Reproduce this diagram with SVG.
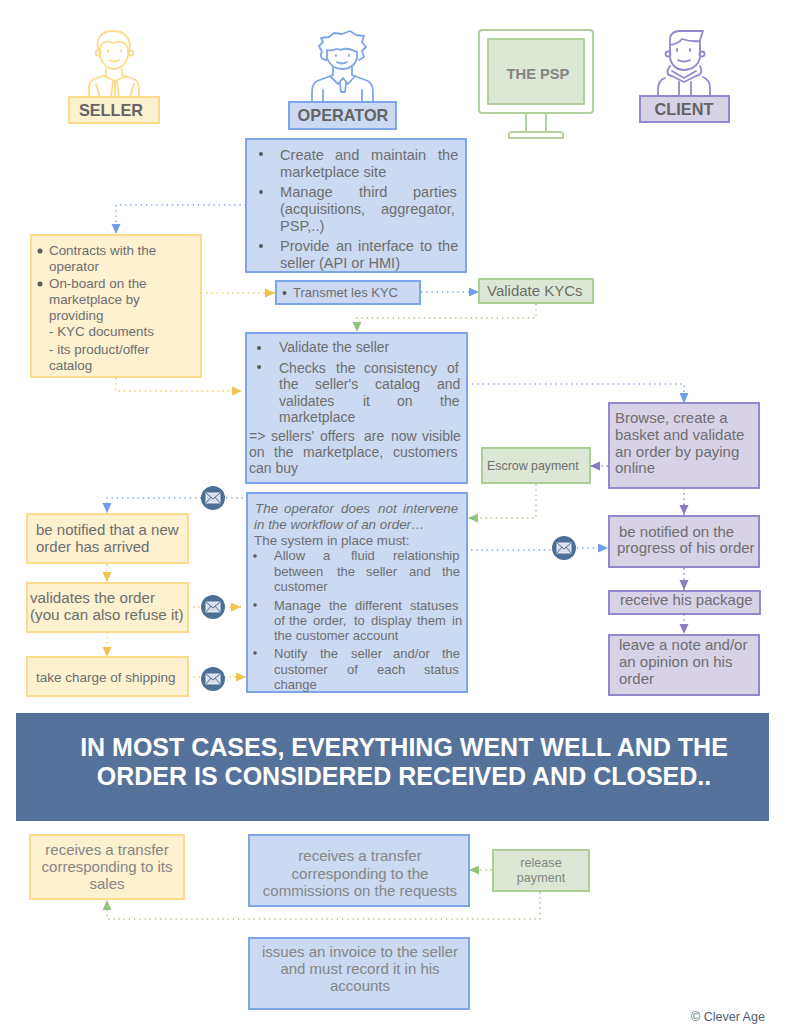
<svg xmlns="http://www.w3.org/2000/svg" width="786" height="1024" viewBox="0 0 786 1024">
<defs>
<style>
text{font-family:"Liberation Sans",Arial,sans-serif;fill:#6e6e6e}
.y{fill:#fdf1d0;stroke:#fbdc8c;stroke-width:2}
.b{fill:#cbd9f3;stroke:#7da6e8;stroke-width:2}
.g{fill:#dce7d5;stroke:#aecf94;stroke-width:2}
.p{fill:#d8d2e7;stroke:#9288cb;stroke-width:2}
.c{fill:none;stroke-width:1.600;stroke-dasharray:1.400 3.800}
.cy{stroke:#f1c85a}.cb{stroke:#7da6e8}.cg{stroke:#a5cb8e}.cp{stroke:#8e7cc3}
.ic{fill:none;stroke-width:1.8;stroke-linecap:round;stroke-linejoin:round}
.hd{font-weight:bold;font-size:16.300px;fill:#646464;text-anchor:middle}
.m{text-anchor:middle}
.dot{fill:#5a5a5a}
.f13{font-size:13px}.f134{font-size:13.400px}.f14{font-size:14px}.f146{font-size:14.600px}.f15{font-size:15px}
.lt{fill:#858585}
</style>
<marker id="ay" markerWidth="11" markerHeight="10" refX="10" refY="4.500" orient="auto" markerUnits="userSpaceOnUse"><path d="M0 0L10 4.500L0 9Z" fill="#f1c24f"/></marker>
<marker id="ab" markerWidth="11" markerHeight="10" refX="10" refY="4.500" orient="auto" markerUnits="userSpaceOnUse"><path d="M0 0L10 4.500L0 9Z" fill="#6d9eeb"/></marker>
<marker id="ag" markerWidth="11" markerHeight="10" refX="10" refY="4.500" orient="auto" markerUnits="userSpaceOnUse"><path d="M0 0L10 4.500L0 9Z" fill="#93c47d"/></marker>
<marker id="ap" markerWidth="11" markerHeight="10" refX="10" refY="4.500" orient="auto" markerUnits="userSpaceOnUse"><path d="M0 0L10 4.500L0 9Z" fill="#8e7cc3"/></marker>
<g id="mail"><circle r="12" fill="#4e6f95"/><rect x="-7" y="-5" width="14" height="10" fill="#d5deeb" stroke="#fff" stroke-width=".8"/><path d="M-7 -5L0 1L7 -5M-7 5L-2 -1M7 5L2 -1" fill="none" stroke="#4e6f95" stroke-width="1"/></g>
</defs>
<rect width="786" height="1024" fill="#fff"/>

<g id="connectors">
<path class="c cb" marker-end="url(#ab)" d="M246 205H116V234"/>
<path class="c cy" marker-end="url(#ay)" d="M201 293H275"/>
<path class="c cy" marker-end="url(#ay)" d="M116 378V391H242"/>
<path class="c cb" marker-end="url(#ab)" d="M421 292H479"/>
<path class="c cg" marker-end="url(#ag)" d="M536 304V318H357V332"/>
<path class="c cb" marker-end="url(#ab)" d="M467 384H684V403"/>
<path class="c cp" marker-end="url(#ap)" d="M608 466H590"/>
<path class="c cg" marker-end="url(#ag)" d="M536 484V518H468"/>
<path class="c cp" marker-end="url(#ap)" d="M684 488V515"/>
<path class="c cb" d="M471 550H552"/>
<path class="c cb" marker-end="url(#ab)" d="M577 548H608"/>
<path class="c cp" marker-end="url(#ap)" d="M684 568V590"/>
<path class="c cp" marker-end="url(#ap)" d="M684 614V634"/>
<path class="c cb" marker-end="url(#ab)" d="M243 498H107V513"/>
<path class="c cy" marker-end="url(#ay)" d="M107 564V582"/>
<path class="c cy" marker-end="url(#ay)" d="M107 632V657"/>
<path class="c cy" marker-end="url(#ay)" d="M188 607H241"/>
<path class="c cy" marker-end="url(#ay)" d="M188 677H246"/>
<path class="c cg" marker-end="url(#ag)" d="M492 870H469"/>
<path class="c cg" marker-end="url(#ag)" d="M540 892V919H107V900"/>
</g>

<g id="seller">
<g class="ic" stroke="#fcdb8c">
<path d="M99 51C95 40 100 31 113 31C126 31 132 40 129 51"/>
<path d="M100 51C100 42 106 40 113 43C120 40 128 42 128 51V57C125 65 120 69 114 69C108 69 103 65 100 57Z"/>
<circle cx="98" cy="53" r="2.500"/><circle cx="131" cy="53" r="2.500"/>
<path d="M109 60Q114 63 119 60M108 50v2M121 50v2"/>
<path d="M106 69V75L94 79Q89 82 89 88V97M122 69V75L134 79Q139 82 139 88V97M104 76L115 81L126 76M115 81V97M111 97L113 82M117 82L119 97M96 84L100 97M134 84L130 97"/>
</g>
<rect class="y" x="69" y="97" width="90" height="26"/>
<text class="hd" x="111" y="116">SELLER</text>
</g>
<g id="operator">
<g class="ic" stroke="#7da6e8">
<path d="M327 60C322 60 319 56 322 52L319 46L323 42L321 38L329 37L334 33L342 34L350 31L356 35L364 36L362 42L366 47L362 51L364 57L359 60"/>
<path d="M327 50C331 52 336 47 341 50C346 47 352 50 357 52M327 50V58C330 66 336 69 342 69C349 69 355 66 357 58V52"/>
<path d="M337 62Q342 65 347 62M336 55v1M349 55v1"/>
<path d="M333 68V75L317 81Q312 84 312 92V101M352 68V75L368 81Q373 84 373 92V101M330 76L338 84L343 78L348 84L355 76M340 83L341 92H345L346 83M323 90V101M362 90V101"/>
</g>
<rect class="b" x="289" y="102" width="107" height="27"/>
<text class="hd" x="343" y="121">OPERATOR</text>
</g>
<g id="psp">
<rect x="479" y="30" width="114" height="83" rx="3" fill="#fff" stroke="#b3d09e" stroke-width="2"/>
<rect x="488" y="39" width="96" height="65" fill="#dce7d5" stroke="#b3d09e" stroke-width="2"/>
<path d="M526 113V132M546 113V132M509 138V135Q509 132 512 132H560Q563 132 563 135V138Z" fill="#fff" stroke="#b3d09e" stroke-width="2"/>
<text x="538" y="79" class="m" style="font-weight:bold;font-size:14.700px;fill:#858585">THE PSP</text>
</g>
<g id="client">
<g class="ic" stroke="#9288cb">
<path d="M670 54V40Q670 31 680 31H703L700 40V54M670 45Q678 44 682 39Q692 42 700 41"/>
<path d="M670 48V58C672 66 677 70 684 70C691 70 698 66 700 58V48"/>
<circle cx="668" cy="54" r="2.500"/><circle cx="702" cy="54" r="2.500"/>
<path d="M678 60Q684 63 690 60M677 49v2M690 49v2"/>
<path d="M670 66Q664 75 672 76L684 82L696 76Q704 75 700 66M672 71L684 78L696 71M665 78Q658 80 658 90V96M710 96V88Q710 80 703 77M679 82V96M691 82V96"/>
</g>
<rect class="p" x="640" y="96" width="89" height="26"/>
<text class="hd" x="684" y="115">CLIENT</text>
</g>

<g id="operator-tasks" class="f146">
<rect class="b" x="246" y="139" width="220" height="133"/>
<circle class="dot" cx="261" cy="154" r="2"/>
<text y="160"><tspan x="280">Create</tspan><tspan x="335">and</tspan><tspan x="371">maintain</tspan><tspan x="438">the</tspan></text>
<text x="280" y="177">marketplace site</text>
<circle class="dot" cx="261" cy="192" r="2"/>
<text y="197"><tspan x="280">Manage</tspan><tspan x="359">third</tspan><tspan x="413">parties</tspan></text>
<text y="214"><tspan x="280">(acquisitions,</tspan><tspan x="381">aggregator,</tspan></text>
<text x="280" y="231">PSP,..)</text>
<circle class="dot" cx="261" cy="246" r="2"/>
<text y="251"><tspan x="280">Provide</tspan><tspan x="336">an</tspan><tspan x="358">interface</tspan><tspan x="420">to</tspan><tspan x="438">the</tspan></text>
<text x="280" y="268">seller (API or HMI)</text>
</g>
<g id="seller-tasks" class="f134">
<rect class="y" x="31" y="235" width="170" height="142"/>
<circle class="dot" cx="40" cy="251" r="2.500"/>
<text x="49" y="255">Contracts with the</text>
<text x="49" y="271">operator</text>
<circle class="dot" cx="40" cy="284" r="2.500"/>
<text x="49" y="288">On-board on the</text>
<text x="49" y="304">marketplace by</text>
<text x="49" y="320">providing</text>
<text x="49" y="336">- KYC documents</text>
<text x="49" y="354">- its product/offer</text>
<text x="49" y="370">catalog</text>
</g>
<g id="transmit" class="f13">
<rect class="b" x="276" y="281" width="144" height="23"/>
<circle class="dot" cx="284.500" cy="293" r="2"/>
<text x="293" y="297">Transmet les KYC</text>
</g>
<g id="validate-kyc" class="f15">
<rect class="g" x="479" y="279" width="114" height="24"/>
<text x="487" y="296">Validate KYCs</text>
</g>
<g id="validate-seller" class="f14">
<rect class="b" x="246" y="333" width="221" height="150"/>
<circle class="dot" cx="259" cy="348" r="2"/>
<text x="279" y="352">Validate the seller</text>
<circle class="dot" cx="259" cy="367" r="2"/>
<text y="373"><tspan x="279">Checks</tspan><tspan x="336">the</tspan><tspan x="364">consistency</tspan><tspan x="447">of</tspan></text>
<text y="389"><tspan x="279">the</tspan><tspan x="315">seller's</tspan><tspan x="375">catalog</tspan><tspan x="437">and</tspan></text>
<text y="406"><tspan x="279">validates</tspan><tspan x="363">it</tspan><tspan x="397">on</tspan><tspan x="440">the</tspan></text>
<text x="279" y="422">marketplace</text>
<text y="441"><tspan x="249">=&gt;</tspan><tspan x="271">sellers'</tspan><tspan x="320">offers</tspan><tspan x="364">are</tspan><tspan x="391">now</tspan><tspan x="422">visible</tspan></text>
<text y="457"><tspan x="249">on</tspan><tspan x="274">the</tspan><tspan x="303">marketplace,</tspan><tspan x="393">customers</tspan></text>
<text x="249" y="473">can buy</text>
</g>
<g id="browse" class="f15">
<rect class="p" x="609" y="403" width="150" height="85"/>
<text x="615" y="423">Browse, create a</text>
<text x="615" y="440">basket and validate</text>
<text x="615" y="457">an order by paying</text>
<text x="615" y="473">online</text>
</g>
<g id="escrow">
<rect class="g" x="482" y="448" width="108" height="35"/>
<text x="487" y="470" style="font-size:12.400px">Escrow payment</text>
</g>
<g id="workflow">
<rect class="b" x="247" y="493" width="220" height="199"/>
<g class="f134">
<text y="513" font-style="italic"><tspan x="255">The</tspan><tspan x="284">operator</tspan><tspan x="341">does</tspan><tspan x="378">not</tspan><tspan x="403">intervene</tspan></text>
<text x="254" y="529" font-style="italic">in the workflow of an order…</text>
<text x="254" y="545">The system in place must:</text>
</g>
<g class="f13">
<circle class="dot" cx="255" cy="556" r="1.800"/>
<text y="560"><tspan x="274">Allow</tspan><tspan x="323">a</tspan><tspan x="351">fluid</tspan><tspan x="393">relationship</tspan></text>
<text y="576"><tspan x="274">between</tspan><tspan x="337">the</tspan><tspan x="366">seller</tspan><tspan x="409">and</tspan><tspan x="442">the</tspan></text>
<text x="274" y="591">customer</text>
<circle class="dot" cx="255" cy="605" r="1.800"/>
<text y="610"><tspan x="274">Manage</tspan><tspan x="329">the</tspan><tspan x="355">different</tspan><tspan x="410">statuses</tspan></text>
<text y="625"><tspan x="274">of</tspan><tspan x="289">the</tspan><tspan x="313">order,</tspan><tspan x="354">to</tspan><tspan x="371">display</tspan><tspan x="417">them</tspan><tspan x="452">in</tspan></text>
<text x="274" y="640">the customer account</text>
<circle class="dot" cx="255" cy="653" r="1.800"/>
<text y="658"><tspan x="274">Notify</tspan><tspan x="320">the</tspan><tspan x="351">seller</tspan><tspan x="393">and/or</tspan><tspan x="442">the</tspan></text>
<text y="674"><tspan x="274">customer</tspan><tspan x="347">of</tspan><tspan x="377">each</tspan><tspan x="424">status</tspan></text>
<text x="274" y="689">change</text>
</g>
</g>
<g id="notified-progress" class="f15">
<rect class="p" x="609" y="516" width="150" height="51"/>
<text x="619" y="537">be notified on the</text>
<text x="617" y="553">progress of his order</text>
</g>
<g id="package" class="f15">
<rect class="p" x="609" y="591" width="151" height="23"/>
<text x="620" y="605">receive his package</text>
</g>
<g id="note" class="f15">
<rect class="p" x="609" y="635" width="150" height="60"/>
<text x="619" y="650">leave a note and/or</text>
<text x="619" y="667">an opinion on his</text>
<text x="619" y="684">order</text>
</g>
<g id="notified-new" class="f15">
<rect class="y" x="27" y="514" width="161" height="49"/>
<text x="36" y="535">be notified that a new</text>
<text x="36" y="552">order has arrived</text>
</g>
<g id="validates-order">
<rect class="y" x="27" y="583" width="161" height="49"/>
<text x="30" y="603" style="font-size:15.200px">validates the order</text>
<text x="30" y="620" style="font-size:15.200px">(you can also refuse it)</text>
</g>
<g id="shipping">
<rect class="y" x="27" y="657" width="161" height="39"/>
<text x="36" y="682" style="font-size:13.500px">take charge of shipping</text>
</g>
<g id="mail-icons">
<use href="#mail" x="213" y="498"/>
<use href="#mail" x="213" y="607"/>
<use href="#mail" x="213" y="679"/>
<use href="#mail" x="564" y="548"/>
</g>
<g id="banner">
<rect x="16" y="713" width="753" height="108" fill="#54729a"/>
<text x="404" y="756" class="m" style="font-weight:bold;font-size:25px;fill:#fff">IN MOST CASES, EVERYTHING WENT WELL AND THE</text>
<text x="404" y="785" class="m" style="font-weight:bold;font-size:25px;fill:#fff">ORDER IS CONSIDERED RECEIVED AND CLOSED..</text>
</g>
<g id="transfer-seller" class="f15">
<rect class="y" x="30" y="835" width="154" height="64"/>
<text x="107" y="855" class="m lt">receives a transfer</text>
<text x="107" y="872" class="m lt">corresponding to its</text>
<text x="107" y="889" class="m lt">sales</text>
</g>
<g id="transfer-operator" class="f15">
<rect class="b" x="249" y="835" width="220" height="71"/>
<text x="360" y="861" class="m lt">receives a transfer</text>
<text x="360" y="879" class="m lt">corresponding to the</text>
<text x="360" y="896" class="m lt">commissions on the requests</text>
</g>
<g id="release">
<rect class="g" x="493" y="850" width="96" height="41"/>
<text x="541" y="867" class="m lt" style="font-size:12.600px">release</text>
<text x="541" y="882" class="m lt" style="font-size:12.600px">payment</text>
</g>
<g id="invoice" class="f15">
<rect class="b" x="249" y="938" width="220" height="71"/>
<text x="360" y="957" class="m lt">issues an invoice to the seller</text>
<text x="360" y="974" class="m lt">and must record it in his</text>
<text x="360" y="991" class="m lt">accounts</text>
</g>
<text id="credit" x="691" y="1021" style="font-size:12.500px;fill:#55606e">© Clever Age</text>
</svg>
